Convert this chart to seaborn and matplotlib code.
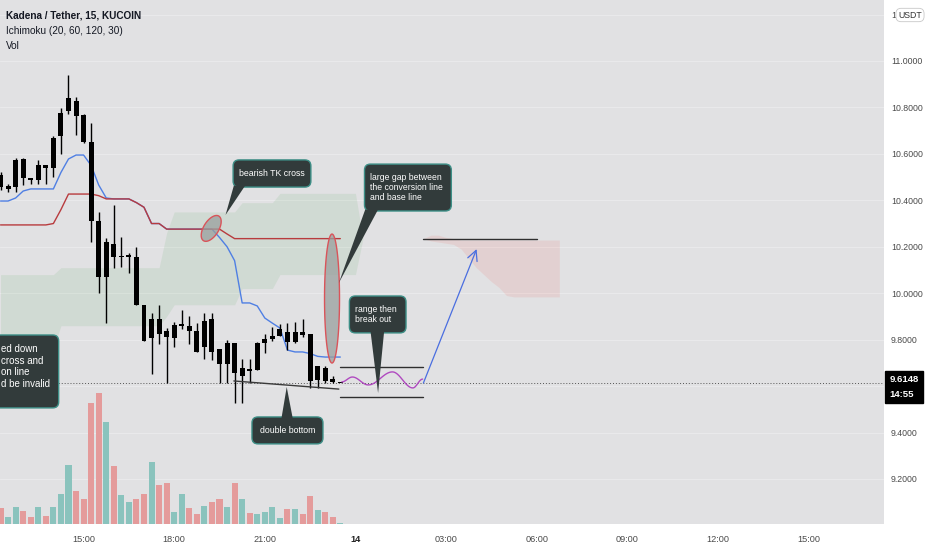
import numpy as np
import pandas as pd
import matplotlib
matplotlib.use("Agg")
import matplotlib.pyplot as plt
import seaborn as sns
from matplotlib.patches import FancyBboxPatch, Polygon
from matplotlib.transforms import blended_transform_factory

# KDA/USDT 15m candles
start_time = "2021-12-13 12:15"
opens = [10.509, 10.449, 10.457, 10.578, 10.496, 10.488, 10.552, 10.539, 10.677, 10.785,
         10.828, 10.767, 10.651, 10.311, 10.070, 10.212, 10.156, 10.156, 10.156, 9.949,
         9.807, 9.889, 9.837, 9.807, 9.859, 9.859, 9.837, 9.768, 9.889, 9.760,
         9.695, 9.786, 9.643, 9.674, 9.669, 9.786, 9.803, 9.816, 9.833, 9.790,
         9.833, 9.824, 9.626, 9.678, 9.630, 9.6148]
highs = [10.522, 10.470, 10.582, 10.582, 10.496, 10.574, 10.552, 10.677, 10.798, 10.940,
         10.845, 10.772, 10.733, 10.350, 10.238, 10.380, 10.242, 10.173, 10.199, 9.949,
         9.915, 9.949, 9.850, 9.876, 9.928, 9.902, 9.872, 9.915, 9.915, 9.760,
         9.798, 9.786, 9.717, 9.717, 9.790, 9.824, 9.854, 9.867, 9.872, 9.876,
         9.889, 9.824, 9.686, 9.686, 9.643, 9.6148]
lows = [10.444, 10.436, 10.436, 10.466, 10.470, 10.470, 10.470, 10.500, 10.599, 10.772,
        10.681, 10.647, 10.220, 10.001, 9.872, 10.109, 10.113, 10.087, 9.949, 9.794,
        9.652, 9.781, 9.613, 9.768, 9.846, 9.781, 9.747, 9.717, 9.712, 9.613,
        9.613, 9.527, 9.527, 9.613, 9.669, 9.742, 9.794, 9.816, 9.755, 9.786,
        9.811, 9.592, 9.592, 9.613, 9.613, 9.6148]
closes = [10.457, 10.462, 10.574, 10.496, 10.488, 10.552, 10.539, 10.668, 10.776, 10.841,
          10.763, 10.651, 10.311, 10.070, 10.220, 10.156, 10.160, 10.165, 9.949, 9.794,
          9.889, 9.824, 9.811, 9.863, 9.867, 9.837, 9.747, 9.880, 9.747, 9.695,
          9.786, 9.656, 9.678, 9.665, 9.786, 9.803, 9.816, 9.846, 9.790, 9.833,
          9.820, 9.622, 9.686, 9.622, 9.618, 9.6148]
volumes = [1600, 700, 1700, 1300, 700, 1700, 800, 1700, 3000, 5900,
           3300, 2500, 12100, 13100, 10200, 5800, 2900, 2200, 2500, 3000,
           6200, 3900, 4100, 1200, 3000, 1600, 1000, 1800, 2200, 2500,
           1700, 4100, 2500, 1100, 1000, 1200, 1700, 600, 1500, 1500,
           1000, 2800, 1400, 1200, 700, 100]

# Ichimoku (20, 60, 120, 30)
tenkan = [10.397, 10.397, 10.41, 10.44, 10.449, 10.449, 10.449, 10.449, 10.52, 10.578,
          10.595, 10.595, 10.55, 10.466, 10.41, 10.406, 10.406, 10.406, 10.39, 10.37,
          10.30, 10.30, 10.276, 10.276, 10.276, 10.276, 10.276, 10.276, 10.276, 10.24,
          10.20, 10.14, 9.958, 9.958, 9.945, 9.893, 9.871, 9.85, 9.755, 9.747,
          9.747, 9.74, 9.728, 9.725, 9.725, 9.725]
kijun = [10.294, 10.294, 10.294, 10.294, 10.294, 10.294, 10.294, 10.30, 10.36, 10.427,
         10.427, 10.427, 10.427, 10.42, 10.406, 10.406, 10.406, 10.406, 10.39, 10.37,
         10.30, 10.30, 10.276, 10.276, 10.276, 10.276, 10.276, 10.276, 10.276, 10.276,
         10.255, 10.235, 10.235, 10.235, 10.235, 10.235, 10.235, 10.235, 10.235, 10.235,
         10.235, 10.235, 10.235, 10.235, 10.235, 10.235]
span_a = ([10.08] * 8 + [10.11] * 14 + [10.26] + [10.35] * 9 + [10.39] * 5 + [10.43] * 11
          + [10.235] * 9
          + [10.225, 10.22, 10.215, 10.21, 10.19, 10.15, 10.11, 10.08, 10.05, 10.025, 9.99]
          + [9.984] * 7)
span_b = ([9.76] * 8 + [9.86] * 14 + [9.90] + [9.95] * 9 + [10.02] * 5 + [10.08] * 11
          + [10.235] * 9
          + [10.25, 10.25, 10.24, 10.235] + [10.229] * 14)

last_price = 9.6148
countdown = "14:55"
price_ticks = [9.2, 9.4, 9.6, 9.8, 10.0, 10.2, 10.4, 10.6, 10.8, 11.0, 11.2]

# drawings on the chart (bar index, price)
tk_cross = (27.9, 10.279)
gap_mid = (43.9, 9.977)
trend_x = [30.9, 44.8]
trend_y = [9.622, 9.587]
range_top, range_bottom = 9.682, 9.553
range_x = [45.0, 55.9]
target_level = 10.233
target_x = [55.9, 71.0]
wave_x = [45.2, 46.6, 48.7, 51.9, 54.6, 55.9]
wave_y = [9.618, 9.639, 9.605, 9.661, 9.592, 9.630]
arrow_from = (56.0, 9.613)
arrow_to = (63.05, 10.19)

callouts = [
    dict(lines=["bearish TK cross"], box=(30.8, 41.1, 10.457, 10.574),
         tip=(29.8, 10.337), base=(30.9, 32.4), side="bottom"),
    dict(lines=["large gap between", "the conversion line", "and base line"],
         box=(48.2, 59.7, 10.354, 10.556), tip=(44.8, 10.044), base=(48.3, 50.0), side="bottom"),
    dict(lines=["range then", "break out"], box=(46.2, 53.7, 9.829, 9.988),
         tip=(50.0, 9.570), base=(49.0, 50.8), side="bottom"),
    dict(lines=["double bottom"], box=(33.3, 42.7, 9.351, 9.467),
         tip=(37.9, 9.596), base=(37.2, 38.7), side="top"),
]
left_note = ["ed down", "cross and", "on line", "d be invalid"]
left_box = (-3.0, 7.7, 9.506, 9.820)

# ---------------------------------------------------------------------
sns.set_theme(style="white")
plt.rcParams['font.family'] = ['Liberation Sans', 'DejaVu Sans']

bg = "#e1e1e3"
n = len(opens)
bars = np.arange(n)
df = pd.DataFrame({"bar": bars, "open": opens, "high": highs, "low": lows,
                   "close": closes, "vol": volumes})
df["dir"] = np.where(df["close"] >= df["open"], "up", "down")
times = pd.date_range(start_time, periods=120, freq="15min")

fig = plt.figure(figsize=(9.32, 5.5), dpi=100, facecolor="white")
rect = [0, 26 / 550, 884 / 932, 524 / 550]
axv = fig.add_axes(rect, facecolor=bg)
ax = fig.add_axes(rect, facecolor="none")

xlim = (-0.07, 117.0)
ylim = (9.006, 11.2627)
ax.set_xlim(*xlim)
ax.set_ylim(*ylim)
ppb = rect[2] * 932 / (xlim[1] - xlim[0])
ppp = rect[3] * 550 / (ylim[1] - ylim[0])

# volume
sns.barplot(data=df, x="bar", y="vol", hue="dir", palette={"up": "#8ac3bd", "down": "#e49b9b"},
            native_scale=True, dodge=False, width=0.8, saturation=1, linewidth=0,
            errorbar=None, legend=False, ax=axv)
axv.set_xlim(*xlim)
axv.set_ylim(0, max(volumes) * 4.0)
axv.set_xticks([]); axv.set_yticks([])
axv.set_xlabel(""); axv.set_ylabel("")
for s in axv.spines.values():
    s.set_visible(False)

# horizontal grid behind everything
gtr = blended_transform_factory(axv.transAxes, ax.transData)
for p in price_ticks:
    axv.plot([0, 1], [p, p], transform=gtr, color="#e9e9eb", lw=0.8, zorder=0)

# cloud
cb = np.arange(len(span_a))
sa, sb = np.array(span_a), np.array(span_b)
ax.fill_between(cb, sa, sb, where=sa >= sb, interpolate=True, color="#43a047", alpha=0.1, lw=0, zorder=1)
ax.fill_between(cb, sa, sb, where=sa < sb, interpolate=True, color="#f44336", alpha=0.1, lw=0, zorder=1)

# tenkan / kijun
sns.lineplot(x=bars, y=tenkan, color="#4f7fe3", lw=1, ax=ax, zorder=2)
sns.lineplot(x=bars, y=kijun, color="#b83b3e", lw=1, ax=ax, zorder=2.1)

# candles
body_w = 0.66
min_h = 1.0 / ppp
ax.vlines(df["bar"], df["low"], df["high"], color="black", lw=1, zorder=3)
bot = np.minimum(df["open"], df["close"])
hgt = np.maximum(np.abs(df["close"] - df["open"]), min_h)
ax.bar(df["bar"], hgt, bottom=bot, width=body_w, color="black", lw=0, zorder=3.1)

# last price line
ax.axhline(last_price, color="#555555", lw=0.7, ls=(0, (1, 2)), zorder=2.5)

# user drawings
ax.plot(trend_x, trend_y, color="#3a3a3a", lw=1, zorder=4)
ax.plot(range_x, [range_top] * 2, color="#2f2f2f", lw=1, zorder=4)
ax.plot(range_x, [range_bottom] * 2, color="#2f2f2f", lw=1, zorder=4)
ax.plot(target_x, [target_level] * 2, color="#2f2f2f", lw=1, zorder=4)
wx, wy = [], []
for x0, y0, x1, y1 in zip(wave_x[:-1], wave_y[:-1], wave_x[1:], wave_y[1:]):
    t = np.linspace(0, 1, 25)
    wx.extend(x0 + (x1 - x0) * t)
    wy.extend(y0 + (y1 - y0) * (1 - np.cos(np.pi * t)) / 2)
ax.plot(wx, wy, color="#b04ac0", lw=1, zorder=4)
ax.annotate("", xy=arrow_to, xytext=arrow_from, zorder=4,
            arrowprops=dict(arrowstyle="->,head_length=0.6,head_width=0.3",
                            color="#4a6ee0", lw=0.9, shrinkA=0, shrinkB=0))


def ellipse(c, w_px, h_px, ang):
    t = np.linspace(0, 2 * np.pi, 120)
    ex, ey = w_px / 2 * np.cos(t), h_px / 2 * np.sin(t)
    a = np.deg2rad(ang)
    rx = ex * np.cos(a) - ey * np.sin(a)
    ry = ex * np.sin(a) + ey * np.cos(a)
    return np.column_stack([c[0] + rx / ppb, c[1] + ry / ppp])


for c, w, h, a in [(tk_cross, 15, 29, -32), (gap_mid, 15, 129, 0)]:
    ax.add_patch(Polygon(ellipse(c, w, h, a), closed=True, fc="#9aa09e", alpha=0.75,
                         ec="none", zorder=5))
    ax.add_patch(Polygon(ellipse(c, w, h, a), closed=True, fc="none", ec="#d9545a",
                         lw=1, zorder=5.1))

# callouts
box_fc, box_ec = "#323b3b", "#3d8f87"
asp = ppb / ppp


def draw_box(x0, x1, y0, y1):
    ax.add_patch(FancyBboxPatch((x0, y0), x1 - x0, y1 - y0,
                                boxstyle=f"round,pad=0,rounding_size={6 / ppb}",
                                mutation_aspect=asp, fc=box_fc, ec=box_ec, lw=1, zorder=6))


for co in callouts:
    x0, x1, y0, y1 = co["box"]
    draw_box(x0, x1, y0, y1)
    by = y0 if co["side"] == "bottom" else y1
    inset = 1.5 / ppp if co["side"] == "bottom" else -1.5 / ppp
    ax.add_patch(Polygon([(co["base"][0], by + inset), (co["base"][1], by + inset), co["tip"]],
                         closed=True, fc=box_fc, ec="none", zorder=6.2))
    yc = (y0 + y1) / 2
    if len(co["lines"]) == 1:
        ax.text((x0 + x1) / 2, yc, co["lines"][0], ha="center", va="center", color="white",
                fontsize=6.3, zorder=7)
    else:
        ax.text(x0 + 6 / ppb, yc, "\n".join(co["lines"]), ha="left", va="center", color="white",
                fontsize=6.2, linespacing=1.15, zorder=7)

x0, x1, y0, y1 = left_box
draw_box(x0, x1, y0, y1)
ax.text(0.1, (y0 + y1) / 2 + 5 / ppp, "\n".join(left_note), ha="left", va="center", color="white",
        fontsize=7, linespacing=1.2, zorder=7, clip_on=True)

# axes / ticks (9.6000 sits under the last price tag, as on the chart)
ax.yaxis.tick_right()
ax.set_yticks(price_ticks)
ax.set_yticklabels(["" if abs(p - 9.6) < 1e-9 else f"{p:.4f}" for p in price_ticks])
ax.tick_params(axis="y", length=0, pad=5, labelsize=6.3, labelcolor="#4a4a4a")
tick_pos, tick_lab = [], []
for i, t in enumerate(times):
    if t.minute == 0 and t.hour % 3 == 0 and i < xlim[1]:
        tick_pos.append(i)
        tick_lab.append(str(t.day) if t.hour == 0 else t.strftime("%H:%M"))
ax.set_xticks(tick_pos)
ax.set_xticklabels(tick_lab)
ax.tick_params(axis="x", length=0, pad=8, labelsize=6.6, labelcolor="#4a4a4a")
for lab in ax.get_xticklabels():
    if ":" not in lab.get_text():
        lab.set_fontweight("bold")
        lab.set_color("#222222")
ax.set_xlabel(""); ax.set_ylabel("")
for s in ax.spines.values():
    s.set_visible(False)

# last price tag
ax.annotate(f"{last_price:.4f}\n{countdown}", xy=(1.0, last_price),
            xycoords=("axes fraction", "data"), xytext=(4, -3), textcoords="offset points",
            ha="left", va="center", fontsize=6.8, color="white",
            fontweight="bold", linespacing=1.8, annotation_clip=False, zorder=10,
            bbox=dict(boxstyle="square,pad=0.45", fc="black", ec="black"))

# currency tag
fig.text(910 / 932, 1 - 15 / 550, "USDT", ha="center", va="center", fontsize=6.3,
         color="#333333",
         bbox=dict(boxstyle="round,pad=0.25,rounding_size=0.6", fc="white", ec="#c8c8c8", lw=0.6))

# legend header
hdr = [("Kadena / Tether, 15, KUCOIN", "bold", 15),
       ("Ichimoku (20, 60, 120, 30)", "normal", 31),
       ("Vol", "normal", 46)]
for txt, wt, ypx in hdr:
    fig.text(6 / 932, 1 - ypx / 550, txt, ha="left", va="center", fontsize=7.2,
             fontweight=wt, color="#131722")

fig.savefig("out.png", dpi=100, facecolor="white")
